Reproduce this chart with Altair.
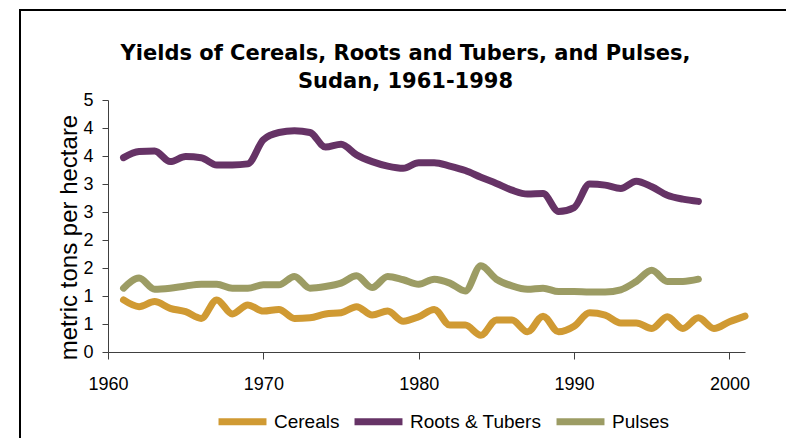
import altair as alt
import pandas as pd

years_main = list(range(1961, 1999))
years_cereal = list(range(1961, 2002))

cereals = [0.93, 0.81, 0.90, 0.78, 0.72, 0.60, 0.93, 0.68, 0.84, 0.73,
           0.76, 0.60, 0.61, 0.68, 0.70, 0.81, 0.66, 0.73, 0.55, 0.63,
           0.76, 0.48, 0.48, 0.30, 0.57, 0.57, 0.36, 0.64, 0.36, 0.46,
           0.70, 0.66, 0.52, 0.52, 0.42, 0.63, 0.42, 0.61, 0.42, 0.54,
           0.64]
roots = [3.47, 3.58, 3.59, 3.40, 3.49, 3.47, 3.34, 3.34, 3.36, 3.79,
         3.92, 3.95, 3.92, 3.66, 3.71, 3.52, 3.40, 3.32, 3.28, 3.38,
         3.38, 3.32, 3.24, 3.12, 3.01, 2.89, 2.82, 2.83, 2.51, 2.58,
         3.00, 2.98, 2.92, 3.05, 2.95, 2.80, 2.73, 2.69]
pulses = [1.14, 1.32, 1.12, 1.14, 1.18, 1.21, 1.21, 1.14, 1.14, 1.20,
          1.20, 1.35, 1.14, 1.17, 1.23, 1.36, 1.15, 1.35, 1.29, 1.21,
          1.30, 1.23, 1.09, 1.54, 1.30, 1.18, 1.12, 1.14, 1.08, 1.08,
          1.07, 1.07, 1.11, 1.26, 1.46, 1.26, 1.26, 1.30]

series_names = ["Cereals", "Roots & Tubers", "Pulses"]
series_colors = ["#D09A33", "#663366", "#9C9C64"]
x_ticks = [1960, 1970, 1980, 1990, 2000]
y_ticks = [0, 0.5, 1, 1.5, 2, 2.5, 3, 3.5, 4, 4.5]

rows = []
for y, v in zip(years_cereal, cereals):
    rows.append({"year": y, "value": v, "series": "Cereals"})
for y, v in zip(years_main, roots):
    rows.append({"year": y, "value": v, "series": "Roots & Tubers"})
for y, v in zip(years_main, pulses):
    rows.append({"year": y, "value": v, "series": "Pulses"})
df = pd.DataFrame(rows)

FONT = "Liberation Sans"

lines = alt.Chart(df).mark_line(
    interpolate="monotone", strokeWidth=7, strokeCap="round", strokeJoin="round"
).encode(
    x=alt.X("year:Q",
            scale=alt.Scale(domain=[1960, 2001], nice=False, zero=False),
            axis=alt.Axis(values=x_ticks, format="d", title=None, grid=False,
                          tickSize=7, labelPadding=16, labelFontSize=18,
                          labelFlush=False, labelFont=FONT, labelColor="#000",
                          domainColor="#404040", tickColor="#404040")),
    y=alt.Y("value:Q",
            scale=alt.Scale(domain=[0, 4.5], nice=False),
            axis=alt.Axis(values=y_ticks, labelExpr="round(datum.value)",
                          title="metric tons per hectare", grid=False,
                          tickSize=6, labelPadding=9, labelFontSize=18,
                          labelFont=FONT, labelColor="#000",
                          titleFont=FONT, titleFontSize=24,
                          titleFontWeight="normal", titleColor="#000",
                          titlePadding=1, titleY=137,
                          domainColor="#404040", tickColor="#404040")),
    color=alt.Color("series:N",
                    scale=alt.Scale(domain=series_names, range=series_colors),
                    sort=series_names,
                    legend=alt.Legend(title=None, orient="none", direction="horizontal",
                                      legendX=107, legendY=294,
                                      symbolType="stroke", symbolSize=2300,
                                      symbolStrokeWidth=7, labelFont=FONT,
                                      labelFontSize=19, labelColor="#000",
                                      labelOffset=4, columnPadding=0)),
)

frame = alt.Chart(pd.DataFrame({"k": [0]})).mark_rect(
    fill=None, stroke="#000", strokeWidth=2
).encode(
    x=alt.value(-88), x2=alt.value(700), y=alt.value(-90), y2=alt.value(360)
)

chart = alt.layer(frame, lines).properties(
    width=637, height=252,
    title=alt.TitleParams(
        text=["Yields of Cereals, Roots and Tubers, and Pulses,", "Sudan, 1961-1998"],
        font="DejaVu Sans", fontSize=21, fontWeight="bold", color="#000",
        anchor="middle", frame="group", dx=-21, offset=-83, lineHeight=28),
    padding={"left": 100, "top": 92, "right": 41, "bottom": 86},
    autosize=alt.AutoSizeParams(type="none"),
).configure_view(stroke=None)

chart.save("out.html", embed_options={"renderer": "svg", "actions": False})
